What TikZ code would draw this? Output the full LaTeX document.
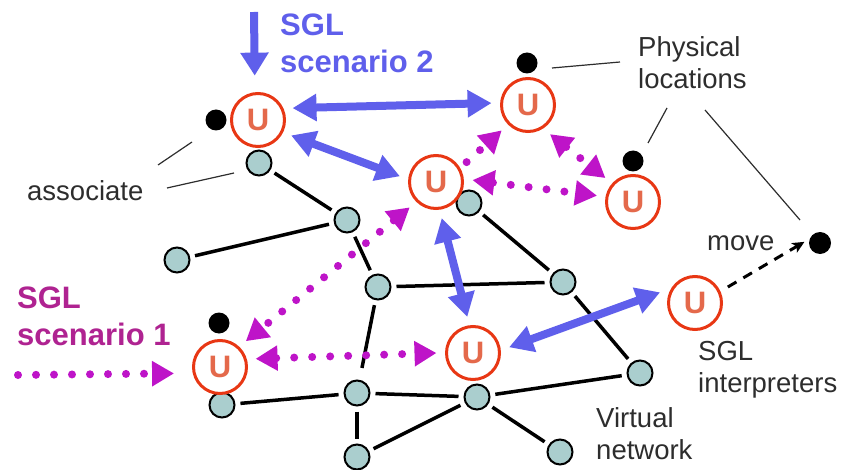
\documentclass[tikz,border=0pt]{standalone}
\usepackage{fontspec}
\setmainfont{Liberation Sans}
\usetikzlibrary{arrows.meta}

\definecolor{sglblue}{RGB}{95,95,235}
\definecolor{sglmag}{RGB}{190,20,200}
\definecolor{sgltxt}{RGB}{175,35,145}
\definecolor{ured}{RGB}{232,55,20}
\definecolor{uletter}{RGB}{228,105,75}
\definecolor{netfill}{RGB}{170,206,206}
\definecolor{labelgray}{RGB}{45,45,45}

\tikzset{
  unode/.style={circle, draw=ured, line width=3pt, fill=white, minimum size=53pt,
    inner sep=0pt, outer sep=10pt, text=uletter, font=\bfseries\fontsize{31}{31}\selectfont},
  netnode/.style={circle, draw=black, line width=2pt, fill=netfill, minimum size=25pt,
    inner sep=0pt, outer sep=6pt},
  loc/.style={circle, fill=black, minimum size=21pt, inner sep=0pt},
  netedge/.style={draw=black, line width=3.5pt},
  pointer/.style={draw=labelgray, line width=1.2pt},
  bluearrow/.style={draw=sglblue, line width=8pt,
    {Triangle[length=24pt,width=26pt]}-{Triangle[length=24pt,width=26pt]}},
  magarrow/.style={draw=sglmag, line width=8pt, line cap=round, dash pattern=on 0pt off 18pt,
    {Triangle[length=22pt,width=24pt]}-{Triangle[length=22pt,width=24pt]}},
  magone/.style={draw=sglmag, line width=8pt, line cap=round, dash pattern=on 0pt off 18pt,
    -{Triangle[length=22pt,width=24pt]}},
  lbl/.style={anchor=base west, inner sep=0pt, text=labelgray, font=\fontsize{27.5}{32}\selectfont},
  title/.style={anchor=base west, inner sep=0pt, font=\bfseries\fontsize{31}{37}\selectfont},
}

\begin{document}
\begin{tikzpicture}[x=1pt,y=-1pt]
\useasboundingbox (0,0) rectangle (842,470);

% virtual network nodes
\node[netnode] (n1)  at (259,163) {};
\node[netnode] (n2)  at (347,220) {};
\node[netnode] (n3)  at (177,260) {};
\node[netnode] (n4)  at (378,287) {};
\node[netnode] (n5)  at (469,203) {};
\node[netnode] (n6)  at (563,282) {};
\node[netnode] (n7)  at (640,373) {};
\node[netnode] (n8)  at (477,397) {};
\node[netnode] (n9)  at (560,452) {};
\node[netnode] (n10) at (222,405) {};
\node[netnode] (n11) at (357,393) {};
\node[netnode] (n12) at (357,457) {};

% virtual network links
\draw[netedge] (n1) -- (n2);
\draw[netedge] (n2) -- (n3);
\draw[netedge] (n2) -- (n4);
\draw[netedge] (n4) -- (n6);
\draw[netedge, shorten >=7pt] (n4) -- (n11);
\draw[netedge] (n5) -- (n6);
\draw[netedge] (n6) -- (n7);
\draw[netedge] (n7) -- (n8);
\draw[netedge] (n8) -- (n9);
\draw[netedge] (n10) -- (n11);
\draw[netedge] (n11) -- (n8);
\draw[netedge] (n11) -- (n12);
\draw[netedge] (n12) -- (n8);

% SGL interpreters
\node[unode] (u1) at (258,120) {U};
\node[unode] (u2) at (528,105) {U};
\node[unode] (u3) at (436,182) {U};
\node[unode] (u4) at (633,202) {U};
\node[unode] (u5) at (220,367) {U};
\node[unode] (u6) at (473,353) {U};
\node[unode] (u7) at (695,303) {U};

% physical locations
\node[loc] (d1) at (216,120) {};
\node[loc] (d2) at (527,63) {};
\node[loc] (d3) at (633,161) {};
\node[loc] (d4) at (219,323) {};
\node[loc, minimum size=22pt] (mv) at (820,243) {};

% scenario 2: blue interactions
\coordinate (s2) at (254,12);
\draw[draw=sglblue, line width=8pt, -{Triangle[length=23pt,width=27pt]}, shorten >=8pt] (s2) -- (u1.95);
\draw[bluearrow] (u1.19) -- (u2.177);
\draw[bluearrow] (u1.-25) -- (u3.171);
\draw[bluearrow] (u3.-81) -- (u6.99);
\draw[bluearrow] (u6.9) -- (u7.163);

% scenario 1: magenta dotted interactions
\coordinate (s1) at (18,375);
\draw[magone, shorten >=10pt] (s1) -- (u5.190);
\draw[magarrow] (u3.224) -- (u5.45);
\draw[magone] (u3.33) -- (u2.224);
\draw[magarrow] (u2.-53) -- (u4.139);
\draw[magarrow] (u3.3) -- (u4.170);
\draw[magarrow] (u5.13) -- (u6.180);

% movement of an interpreter
\draw[draw=black, line width=3pt, dash pattern=on 10pt off 8pt,
  -{Stealth[length=12pt,width=11pt,inset=3pt]}, shorten >=6pt] (u7.26) -- (mv.158);

% pointer lines from labels
\coordinate (a1) at (158,165); \coordinate (a2) at (192,142);
\coordinate (a3) at (167,188); \coordinate (a4) at (234,173);
\coordinate (p1) at (552,68);  \coordinate (p2) at (620,62);
\coordinate (p3) at (648,143); \coordinate (p4) at (667,108);
\coordinate (p5) at (705,110); \coordinate (p6) at (800,220);
\draw[pointer] (a1) -- (a2);
\draw[pointer] (a3) -- (a4);
\draw[pointer] (p1) -- (p2);
\draw[pointer] (p3) -- (p4);
\draw[pointer] (p5) -- (p6);

% labels
\node[lbl] (tassoc) at (27,201) {associate};
\node[lbl] (tphys) at (638,57) {\begin{tabular}[t]{@{}l@{}}Physical\\locations\end{tabular}};
\node[lbl] (tmove) at (707,250) {move};
\node[lbl] (tinterp) at (698,360) {\begin{tabular}[t]{@{}l@{}}SGL\\interpreters\end{tabular}};
\node[lbl] (tvirt) at (596,427) {\begin{tabular}[t]{@{}l@{}}Virtual\\network\end{tabular}};
\node[title, text=sglblue] (tsc2) at (280,36) {\begin{tabular}[t]{@{}l@{}}SGL\\scenario 2\end{tabular}};
\node[title, text=sgltxt] (tsc1) at (17,308) {\begin{tabular}[t]{@{}l@{}}SGL\\scenario 1\end{tabular}};
\end{tikzpicture}
\end{document}
